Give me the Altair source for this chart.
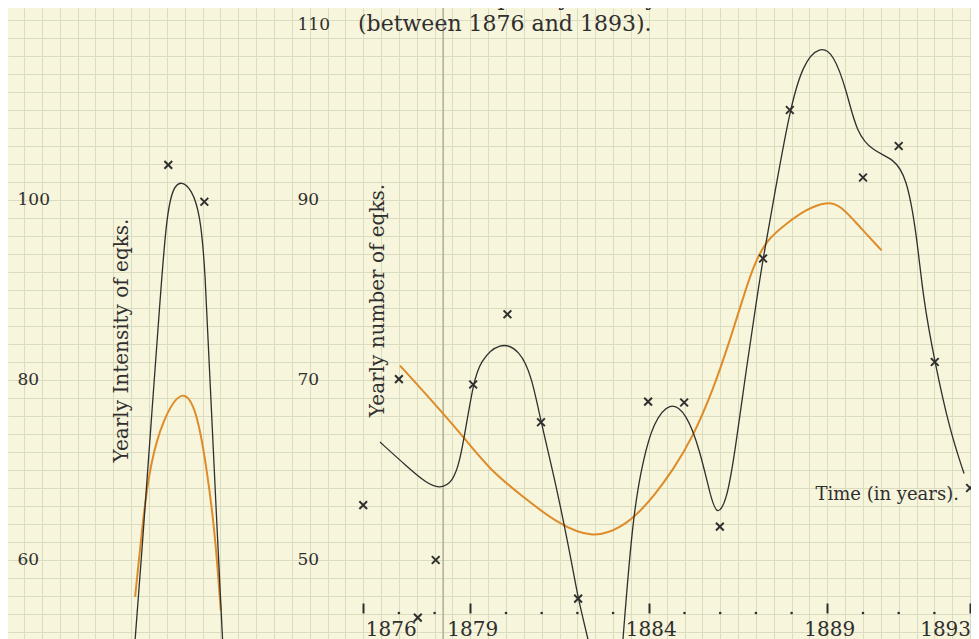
import altair as alt
import pandas as pd

# ---------------- data ----------------
title_lines = ["Seismic Frequency in Tokyo,", "(between 1876 and 1893)."]

major_years = [1876, 1879, 1884, 1889, 1893]
minor_years = [1877, 1878, 1880, 1881, 1882, 1883, 1885, 1886, 1887, 1888, 1890, 1891, 1892]
number_ticks = [50, 70, 90, 110]
intensity_ticks = [60, 80, 100]

# observed yearly number of earthquakes (x marks)
obs_year = [1876.0, 1877.0, 1877.53, 1878.03, 1879.08, 1880.04, 1880.98, 1882.02, 1883.98,
            1884.99, 1885.99, 1887.2, 1887.95, 1889.04, 1890.0, 1891.0, 1892.01, 1893.0]
obs_num = [56.1, 70.1, 43.6, 50.0, 69.5, 77.3, 65.3, 45.7, 67.6,
           67.5, 53.7, 83.5, 100.0, 111.9, 92.5, 96.0, 72.0, 58.0]

# smooth black curve (yearly number)
num_curve_year = [1876.47, 1877.22, 1877.78, 1878.15, 1878.52, 1878.71, 1878.85, 1879.08, 1879.27,
                  1879.83, 1880.39, 1880.72, 1880.98, 1881.42, 1881.88, 1882.02, 1882.30, 1882.55,
                  1882.80, 1883.02, 1883.17, 1883.28, 1883.56, 1883.84, 1884.12, 1884.59, 1885.06,
                  1885.43, 1885.71, 1885.90, 1886.18, 1886.41, 1886.74, 1887.02, 1887.20, 1887.58,
                  1887.95, 1888.32, 1888.79, 1889.17, 1889.54, 1889.82, 1890.29, 1890.85, 1891.22,
                  1891.50, 1891.69, 1892.01, 1892.43, 1892.83]
num_curve_val = [63.1, 60.4, 58.5, 57.9, 58.7, 61.1, 64.1, 69.5, 72.1,
                 74.3, 73.3, 70.4, 65.3, 58.1, 48.9, 45.7, 41.2, 36.7,
                 33.9, 33.1, 35.6, 41.5, 55.2, 61.1, 65.2, 67.7, 66.3,
                 62.2, 57.4, 54.8, 56.5, 61.9, 71.5, 78.9, 83.5, 91.9,
                 100.0, 105.2, 107.1, 106.3, 102.2, 97.4, 95.4, 94.6, 92.6,
                 86.3, 78.9, 72.0, 64.4, 59.6]

# orange mean curve (yearly number)
num_mean_year = [1877.03, 1878.15, 1878.80, 1879.55, 1880.48, 1881.42, 1882.44, 1883.28, 1883.75,
                 1884.12, 1884.68, 1885.24, 1885.80, 1886.27, 1886.64, 1886.92, 1887.30, 1887.86,
                 1888.42, 1888.98, 1889.35, 1889.91, 1890.52]
num_mean_val = [71.6, 66.7, 63.7, 60.0, 57.0, 54.1, 52.3, 53.7, 55.4,
                57.0, 60.0, 63.7, 68.9, 74.4, 79.1, 82.6, 85.6, 87.4,
                89.0, 89.8, 89.5, 87.0, 84.4]

# left panel: yearly intensity
int_obs_year = [1870.54, 1871.55]
int_obs_val = [103.9, 99.8]
int_curve_year = [1869.55, 1869.84, 1870.07, 1870.31, 1870.49, 1870.68, 1870.91, 1871.19,
                  1871.43, 1871.57, 1871.71, 1871.89, 1872.10]
int_curve_val = [48.0, 63.0, 75.9, 88.9, 98.3, 101.5, 102.1, 101.2,
                 98.5, 92.6, 79.6, 64.8, 48.0]
int_mean_year = [1869.61, 1869.84, 1870.03, 1870.40, 1870.94, 1871.33, 1871.61, 1871.85, 1872.01]
int_mean_val = [55.9, 64.8, 70.6, 75.8, 79.2, 76.8, 70.4, 63.0, 54.4]

axis_line_year = [1878.24]

# ---------------- style ----------------
FONT = "DejaVu Serif"
INK = "#2f2f2f"
BG = "#f7f5db"
GRID = "#dadcbf"
ORANGE = "#de8c2a"
X_SHAPE = "M-1,-1L1,1M-1,1L1,-1"
CURVE = "basis"

W, H = 963, 631
xs = alt.Scale(domain=[1866.05, 1893.025], nice=False, zero=False)
ys_n = alt.Scale(domain=[41.22, 111.33], nice=False, zero=False)
ys_i = alt.Scale(domain=[51.22, 121.33], nice=False, zero=False)

obs_df = pd.DataFrame({"year": obs_year, "num": obs_num})
num_curve_df = pd.DataFrame({"year": num_curve_year, "num": num_curve_val})
num_mean_df = pd.DataFrame({"year": num_mean_year, "num": num_mean_val})
int_obs_df = pd.DataFrame({"year": int_obs_year, "val": int_obs_val})
int_curve_df = pd.DataFrame({"year": int_curve_year, "val": int_curve_val})
int_mean_df = pd.DataFrame({"year": int_mean_year, "val": int_mean_val})

# graph-paper grid (invisible marks carrying grid-only axes)
grid = alt.Chart(obs_df).mark_point(opacity=0).encode(
    x=alt.X("year:Q", scale=xs, axis=alt.Axis(orient="bottom", grid=True, tickCount=55, labels=False,
                                              ticks=False, domain=False, title=None,
                                              gridColor=GRID, gridWidth=1, zindex=0)),
    y=alt.Y("num:Q", scale=ys_n, axis=alt.Axis(orient="left", grid=True, tickCount=35, labels=False,
                                               ticks=False, domain=False, title=None,
                                               gridColor=GRID, gridWidth=1, zindex=0)),
)

axis_line = alt.Chart(pd.DataFrame({"year": axis_line_year})).mark_rule(
    color="#aeae94", strokeWidth=1.5
).encode(x=alt.X("year:Q", scale=xs, axis=None))

main_x_axis = alt.Axis(
    orient="bottom", values=major_years, offset=-36, domain=False, grid=False,
    ticks=True, tickSize=10, tickWidth=2, tickColor=INK,
    labelFont=FONT, labelFontSize=20, labelColor=INK, labelPadding=6, labelBaseline="top",
    labelAlign={"condition": {"test": "datum.value == 1876", "value": "left"}, "value": "center"},
    labelOffset={"condition": {"test": "datum.value == 1893", "value": -25}, "value": 2},
    labelFlush=False, labelOverlap=False, format="d",
    title="Time (in years).", titleX=807, titleY=-104, titleAlign="left", titleBaseline="alphabetic",
    titleFont=FONT, titleFontSize=18, titleFontWeight="normal", titleColor=INK, zindex=1,
)

number_axis = alt.Axis(
    orient="left", values=number_ticks, offset=-289, domain=False, grid=False,
    ticks=False, tickSize=0, labelAlign="left", labelPadding=0,
    labelFont=FONT, labelFontSize=17, labelColor=INK,
    labelOffset={"condition": {"test": "datum.value == 110", "value": 5}, "value": 0},
    title="Yearly number of eqks.", titleAngle=270, titleX=86, titleY=292,
    titleAlign="center", titleBaseline="alphabetic",
    titleFont=FONT, titleFontSize=20, titleFontWeight="normal", titleColor=INK, zindex=1,
)

intensity_axis = alt.Axis(
    orient="left", values=intensity_ticks, offset=-9, domain=False, grid=False,
    ticks=False, tickSize=0, labelAlign="left", labelPadding=0,
    labelFont=FONT, labelFontSize=17, labelColor=INK,
    title="Yearly Intensity of eqks.", titleAngle=270, titleX=110, titleY=332,
    titleAlign="center", titleBaseline="alphabetic",
    titleFont=FONT, titleFontSize=20, titleFontWeight="normal", titleColor=INK, zindex=1,
)

num_curve = alt.Chart(num_curve_df).mark_line(
    color=INK, strokeWidth=1.3, interpolate=CURVE, clip=True
).encode(
    x=alt.X("year:Q", scale=xs, axis=main_x_axis),
    y=alt.Y("num:Q", scale=ys_n, axis=number_axis),
)

num_mean = alt.Chart(num_mean_df).mark_line(
    color=ORANGE, strokeWidth=2, interpolate=CURVE, clip=True
).encode(
    x=alt.X("year:Q", scale=xs, axis=None),
    y=alt.Y("num:Q", scale=ys_n, axis=None),
)

num_pts = alt.Chart(obs_df).mark_point(
    shape=X_SHAPE, size=60, filled=False, strokeWidth=2, color=INK, opacity=1, clip=True
).encode(
    x=alt.X("year:Q", scale=xs, axis=None),
    y=alt.Y("num:Q", scale=ys_n, axis=None),
)

int_curve = alt.Chart(int_curve_df).mark_line(
    color=INK, strokeWidth=1.3, interpolate=CURVE, clip=True
).encode(
    x=alt.X("year:Q", scale=xs, axis=None),
    y=alt.Y("val:Q", scale=ys_i, axis=intensity_axis),
)

int_mean = alt.Chart(int_mean_df).mark_line(
    color=ORANGE, strokeWidth=2, interpolate=CURVE, clip=True
).encode(
    x=alt.X("year:Q", scale=xs, axis=None),
    y=alt.Y("val:Q", scale=ys_i, axis=None),
)

int_pts = alt.Chart(int_obs_df).mark_point(
    shape=X_SHAPE, size=60, filled=False, strokeWidth=2, color=INK, opacity=1
).encode(
    x=alt.X("year:Q", scale=xs, axis=None),
    y=alt.Y("val:Q", scale=ys_i, axis=None),
)

minor_dots = alt.Chart(pd.DataFrame({"year": minor_years})).mark_circle(
    size=7, color=INK, opacity=1
).encode(
    x=alt.X("year:Q", scale=xs, axis=None),
    y=alt.value(605),
)

title_text = alt.Chart(pd.DataFrame({"k": [0]})).mark_text(
    text=title_lines, align="left", baseline="alphabetic", font=FONT, fontSize=22,
    lineHeight=26, color=INK
).encode(x=alt.value(350), y=alt.value(-3))

chart = alt.layer(
    grid, axis_line, int_mean, int_curve, int_pts, num_mean, num_curve, num_pts,
    minor_dots, title_text
).resolve_scale(y="independent").resolve_axis(x="independent", y="independent").properties(
    width=W, height=H, padding=0, autosize=alt.AutoSizeParams(type="none"), background=BG
).configure_view(stroke=None)

chart.save("out.html", embed_options={"renderer": "svg", "actions": False})
